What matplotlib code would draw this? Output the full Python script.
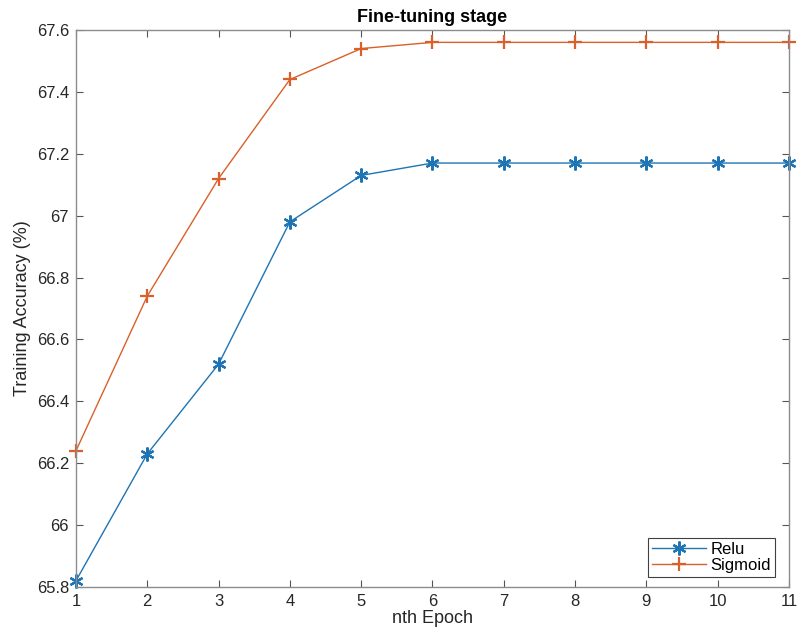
import matplotlib.pyplot as plt

# Data
epochs = [1, 2, 3, 4, 5, 6, 7, 8, 9, 10, 11]
relu = [65.82, 66.23, 66.52, 66.98, 67.13, 67.17, 67.17, 67.17, 67.17, 67.17, 67.17]
sigmoid = [66.24, 66.74, 67.12, 67.44, 67.54, 67.56, 67.56, 67.56, 67.56, 67.56, 67.56]
yticks = [65.8, 66, 66.2, 66.4, 66.6, 66.8, 67, 67.2, 67.4, 67.6]
ytick_labels = ['65.8', '66', '66.2', '66.4', '66.6', '66.8', '67', '67.2', '67.4', '67.6']

plt.rcParams['font.family'] = ['Liberation Sans', 'DejaVu Sans']

fig = plt.figure(figsize=(7.98, 6.38), dpi=100)
ax = fig.add_axes([0.0952, 0.080, 0.8935, 0.873])

# MATLAB style asterisk and plus markers, not clipped at the axes edge
ax.plot(epochs, relu, marker=(6, 2, 0), markersize=10, markeredgewidth=1.6, linewidth=1.0,
        color='#1f74b4', label='Relu', clip_on=False)
ax.plot(epochs, sigmoid, marker='+', markersize=10, markeredgewidth=1.6, linewidth=1.0,
        color='#d9602a', label='Sigmoid', clip_on=False)

ax.set_xlim(1, 11)
ax.set_ylim(65.8, 67.6)
ax.set_xticks(epochs)
ax.set_yticks(yticks)
ax.set_yticklabels(ytick_labels)
ax.tick_params(direction='in', top=True, right=True, labelsize=12, color='#555555',
               labelcolor='#262626', length=5, pad=5)
for s in ax.spines.values():
    s.set_color('#8c8c8c')
    s.set_linewidth(1.0)

ax.set_xlabel('nth Epoch', fontsize=13, labelpad=1, color='#262626')
ax.set_ylabel('Training Accuracy (%)', fontsize=13, color='#262626')
ax.set_title('Fine-tuning stage', fontsize=13, fontweight='bold', pad=6)

leg = ax.legend(loc='lower right', fontsize=12, fancybox=False, framealpha=1,
                edgecolor='#404040', handlelength=3.2, handletextpad=0.3,
                borderpad=0.25, labelspacing=0.05,
                borderaxespad=0.6, bbox_to_anchor=(0.995, 0.0))
leg.get_frame().set_linewidth(0.8)

fig.savefig('out.png', dpi=100)
